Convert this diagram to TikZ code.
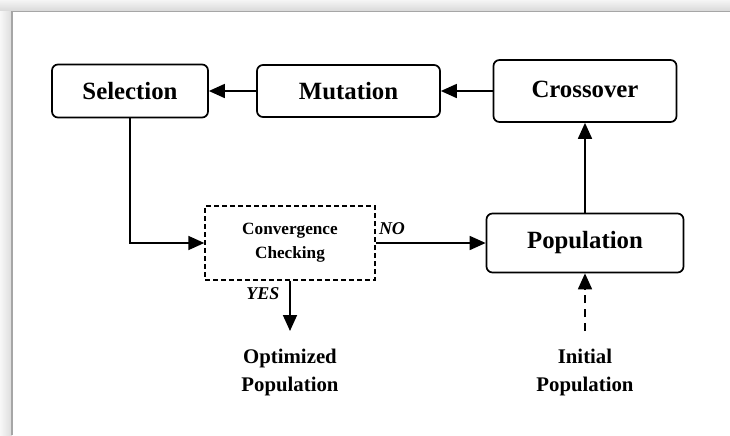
\documentclass[tikz,border=0pt]{standalone}
\usepackage{fontspec}
\setmainfont{Liberation Serif}
\usetikzlibrary{arrows.meta}
\tikzset{
	stage/.style={draw, rounded corners=3pt, line width=0.85pt, align=center, inner sep=0pt,
		font=\fontsize{12.4}{14}\selectfont\bfseries},
	checkbox/.style={draw, dash pattern=on 2.5pt off 1.5pt, line width=0.7pt, align=center, inner sep=0pt,
		font=\fontsize{8.6}{12}\selectfont\bfseries},
	note/.style={align=center, inner xsep=0pt, inner ysep=9pt, font=\fontsize{10.4}{14}\selectfont\bfseries},
	answer/.style={inner sep=0pt, font=\fontsize{9}{10}\selectfont\bfseries\itshape},
	flow/.style={line width=0.85pt, -{Triangle[length=8pt,width=7pt]}},
}

\begin{document}
\begin{tikzpicture}[x=0.5pt, y=-0.5pt]
		%%%%% START %%%%%
		
		\useasboundingbox (0, 0) rectangle (730, 435);
		\fill[white] (0, 0) rectangle (730, 435);
		\shade[top color=black!4, bottom color=black!15] (0, 0) rectangle (730, 11);
		\shade[left color=black!3, right color=black!14] (0, 11) rectangle (12, 435);
		\draw[line width=0.6pt, color=black!35] (12, 435) -- (12, 11.5) -- (730, 11.5);
		
		\node[stage, minimum width=78pt, minimum height=26.5pt] (sel) at (130, 91) {Selection};
		\node[stage, minimum width=91.5pt, minimum height=26pt] (mut) at (348.5, 91) {Mutation};
		\node[stage, minimum width=91.5pt, minimum height=31pt] (cross) at (585, 91) {\raisebox{1.5pt}{Crossover}};
		
		\node[stage, minimum width=98.5pt, minimum height=29.5pt] (pop) at (585, 243) {Population};
		\node[checkbox, minimum width=85pt, minimum height=37pt] (conv) at (290, 243) {Convergence\\Checking};
		
		\node[note, anchor=north] (opt) at (290, 331) {Optimized\\Population};
		\node[note, anchor=north] (init) at (585, 331) {Initial\\Population};
		
		\node[answer] (no) at (392, 229) {NO};
		\node[answer] (yes) at (263, 294) {YES};
		
		\draw[flow] (cross) -- (mut);
		\draw[flow] (mut) -- (sel);
		\draw[flow] (sel.south) |- (conv.west);
		\draw[flow] (conv.east) -- (pop.west);
		\draw[flow] (conv.south) -- (opt.north);
		\draw[flow] (pop.north) -- (cross.south);
		\draw[flow, dash pattern=on 4pt off 3pt] (init.north) -- (pop.south);
		
		%%%%% END %%%%%
	\end{tikzpicture}
\end{document}
